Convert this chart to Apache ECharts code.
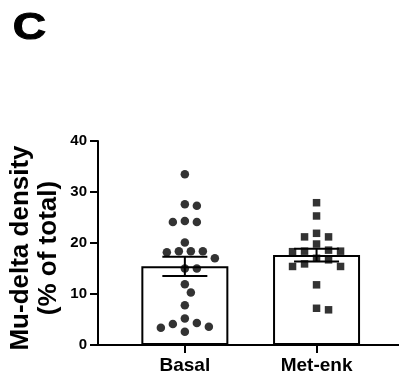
<!DOCTYPE html>
<html>
<head>
<meta charset="utf-8">
<script src="https://cdn.jsdelivr.net/npm/echarts@6/dist/echarts.min.js"></script>
<style>
html,body{margin:0;padding:0;background:#fff;}
#main{width:399px;height:377px;}
</style>
</head>
<body>
<div id="main"></div>
<script>
var categories = ['Basal', 'Met-enk'];
var basalValues = [33.5, 27.6, 27.3, 24.3, 24.1, 24.1, 20.1, 18.4, 18.4, 18.4, 18.2, 17.0, 15.0, 15.0, 11.9, 10.3, 7.8, 5.2, 4.3, 4.1, 3.6, 3.4, 2.6];
var metenkValues = [27.9, 25.3, 21.9, 21.2, 21.2, 19.8, 18.6, 18.4, 18.3, 18.4, 17.0, 16.7, 15.9, 15.4, 15.4, 11.8, 6.9, 7.2];
var yTicks = [0, 10, 20, 30, 40];
var panelLabel = 'C';
var yTitle = 'Mu-delta density\n(% of total)';

function mean(a){var s=0;for(var i=0;i<a.length;i++)s+=a[i];return s/a.length;}
function sem(a){var m=mean(a),s=0;for(var i=0;i<a.length;i++)s+=(a[i]-m)*(a[i]-m);return Math.sqrt(s/(a.length-1))/Math.sqrt(a.length);}
var groups = [basalValues, metenkValues];
var means = groups.map(mean);
var sems = groups.map(sem);

var chart = echarts.init(document.getElementById('main'));
var GRID_TOP = 141, GRID_BOTTOM = 32;
var pxPerUnit = (377 - GRID_TOP - GRID_BOTTOM) / 40;

// beeswarm: compute horizontal pixel offsets avoiding overlap
function swarm(values, minDist, step) {
  var order = values.map(function(v,i){return i;}).sort(function(a,b){return values[b]-values[a];});
  var placed = [];
  var offs = new Array(values.length);
  order.forEach(function(i){
    var y = values[i]*pxPerUnit;
    for (var k=0;k<40;k++){
      var cand = k===0?0:(k%2===1? Math.ceil(k/2)*step : -Math.ceil(k/2)*step);
      var ok = true;
      for (var j=0;j<placed.length;j++){
        var dx = cand-placed[j][0], dy = y-placed[j][1];
        if (Math.sqrt(dx*dx+dy*dy) < minDist){ok=false;break;}
      }
      if (ok){placed.push([cand,y]);offs[i]=cand;break;}
    }
  });
  return offs;
}
var basalOffs = swarm(basalValues, 9.5, 6);
var metOffs = swarm(metenkValues, 9.5, 6);

function scatterData(values, offs, cat){
  return values.map(function(v,i){return {value:[cat, v], symbolOffset:[offs[i],0]};});
}

var font = 'Liberation Sans, Arial, sans-serif';

chart.setOption({
  animation: false,
  backgroundColor: '#fff',
  graphic: [{
    type: 'text', left: 12, top: 11, scaleX: 1.28,
    style: {text: panelLabel, font: 'bold 36px Liberation Sans, Arial, sans-serif', fill: '#000', stroke: '#000', lineWidth: 1}
  }],
  grid: [
    {left: 119, right: 16.6, top: GRID_TOP, bottom: GRID_BOTTOM, containLabel: false, outerBoundsMode: 'none'},
    {left: 98, right: 0, top: GRID_TOP, bottom: GRID_BOTTOM, containLabel: false, outerBoundsMode: 'none'}
  ],
  xAxis: [
    {
      type: 'category', gridIndex: 0, data: categories,
      axisLine: {show: false},
      axisTick: {show: true, alignWithLabel: true, length: 8, lineStyle: {color: '#000', width: 2}},
      axisLabel: {color: '#000', fontFamily: font, fontWeight: 'bold', fontSize: 19, margin: 11},
      splitLine: {show: false}
    },
    {
      type: 'value', gridIndex: 1, min: 0, max: 1,
      axisLine: {show: true, lineStyle: {color: '#000', width: 2}},
      axisTick: {show: false}, axisLabel: {show: false}, splitLine: {show: false}
    }
  ],
  yAxis: [
    {
      type: 'value', gridIndex: 0, min: 0, max: 40, interval: 10, offset: 21,
      name: yTitle, nameLocation: 'middle', nameGap: 35, nameRotate: 90, nameMoveOverlap: false,
      nameTextStyle: {color: '#000', fontFamily: font, fontWeight: 'bold', fontSize: 26, lineHeight: 28, align: 'center', padding: [0, 10, 0, 0]},
      axisLine: {show: true, lineStyle: {color: '#000', width: 2}},
      axisTick: {show: true, length: 8, lineStyle: {color: '#000', width: 2}},
      axisLabel: {color: '#000', fontFamily: font, fontWeight: 'bold', fontSize: 15, margin: 11,
        formatter: function(v){return yTicks.indexOf(v)>=0 ? String(v) : '';}},
      splitLine: {show: false}
    },
    {
      type: 'value', gridIndex: 1, min: 0, max: 40, show: false
    }
  ],
  series: [
    {
      type: 'bar', xAxisIndex: 0, yAxisIndex: 0, data: means, barWidth: 87,
      itemStyle: {color: '#fff', borderColor: '#000', borderWidth: 2},
      z: 2
    },
    {
      type: 'scatter', xAxisIndex: 0, yAxisIndex: 0, symbol: 'circle', symbolSize: 8.5,
      itemStyle: {color: '#000'}, data: scatterData(basalValues, basalOffs, 0), z: 3
    },
    {
      type: 'scatter', xAxisIndex: 0, yAxisIndex: 0, symbol: 'rect', symbolSize: 7.5,
      itemStyle: {color: '#000'}, data: scatterData(metenkValues, metOffs, 1), z: 3
    },
    {
      type: 'custom', xAxisIndex: 0, yAxisIndex: 0, z: 4,
      data: means.map(function(m,i){return [i, m - sems[i], m + sems[i]];}),
      renderItem: function(params, api){
        var lo = api.coord([api.value(0), api.value(1)]);
        var hi = api.coord([api.value(0), api.value(2)]);
        var hw = 22.5;
        var st = {stroke: '#000', lineWidth: 2};
        return {type: 'group', children: [
          {type: 'line', shape: {x1: lo[0], y1: lo[1], x2: hi[0], y2: hi[1]}, style: st},
          {type: 'line', shape: {x1: lo[0]-hw, y1: lo[1], x2: lo[0]+hw, y2: lo[1]}, style: st},
          {type: 'line', shape: {x1: hi[0]-hw, y1: hi[1], x2: hi[0]+hw, y2: hi[1]}, style: st}
        ]};
      }
    }
  ]
});
</script>
</body>
</html>
